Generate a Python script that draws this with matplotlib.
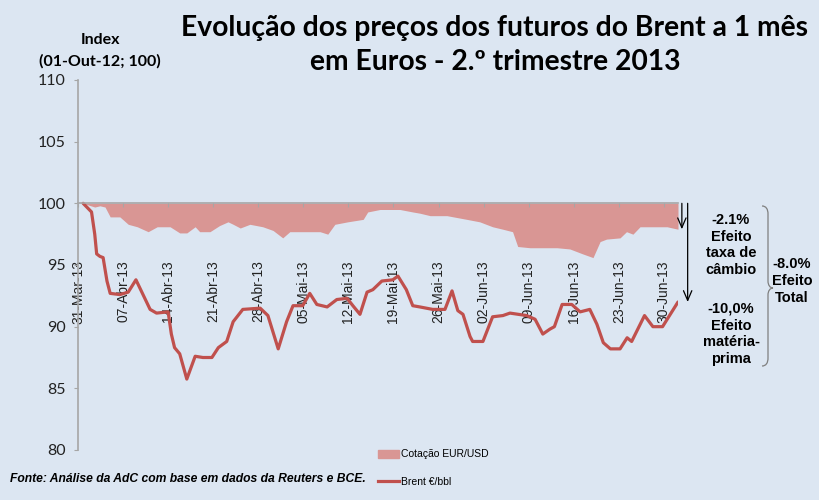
import matplotlib.pyplot as plt
from matplotlib.path import Path
from matplotlib.patches import PathPatch, Patch
from matplotlib.lines import Line2D

# days counted from 31-Mar-13
tick_days = [0, 7, 14, 21, 28, 35, 42, 49, 56, 63, 70, 77, 84, 91]
tick_labels = ["31-Mar-13", "07-Abr-13", "14-Abr-13", "21-Abr-13", "28-Abr-13",
               "05-Mai-13", "12-Mai-13", "19-Mai-13", "26-Mai-13", "02-Jun-13",
               "09-Jun-13", "16-Jun-13", "23-Jun-13", "30-Jun-13"]

# Cotação EUR/USD (index)
eur_days = [0.8, 2.6, 3.4, 4.2, 5.0, 6.5, 7.8, 9.2, 10.9, 12.3, 14.3, 15.8, 16.9,
            18.2, 18.9, 20.5, 22.0, 23.3, 24.1, 25.2, 26.7, 28.7, 30.3, 31.8, 32.9,
            37.6, 38.8, 39.9, 41.9, 44.3, 45.0, 46.9, 50.0, 52.0, 53.1, 54.7, 57.3,
            60.4, 62.4, 64.4, 66.0, 67.5, 68.3, 70.2, 72.2, 74.4, 76.4, 78.4, 80.0,
            81.1, 82.1, 84.2, 85.2, 86.2, 87.3, 89.3, 91.5, 93.2]
eur_vals = [100.0, 99.7, 99.8, 99.7, 98.9, 98.9, 98.3, 98.1, 97.7, 98.1, 98.1, 97.6, 97.6,
            98.1, 97.7, 97.7, 98.2, 98.5, 98.3, 98.0, 98.3, 98.1, 97.8, 97.2, 97.7,
            97.7, 97.5, 98.3, 98.5, 98.7, 99.3, 99.5, 99.5, 99.3, 99.2, 99.0, 99.0,
            98.7, 98.5, 98.1, 97.9, 97.7, 96.5, 96.4, 96.4, 96.4, 96.3, 95.9, 95.6,
            96.9, 97.1, 97.2, 97.7, 97.5, 98.1, 98.1, 98.1, 97.9]

# Brent EUR/bbl (index)
brent_days = [0.8, 2.1, 2.6, 2.9, 3.4, 3.9, 4.5, 5.0, 6.5, 7.8, 9.0, 10.1, 11.2, 12.2,
              14.0, 14.5, 15.0, 15.8, 16.9, 18.2, 19.4, 20.8, 21.8, 23.1, 24.1, 25.6,
              28.3, 29.5, 31.1, 32.4, 33.4, 34.9, 36.0, 37.1, 38.7, 40.2, 41.8, 42.7,
              43.8, 44.9, 45.8, 47.2, 48.9, 49.7, 51.0, 52.0, 53.1, 55.1, 57.0, 58.1,
              59.0, 59.8, 60.9, 61.3, 62.9, 64.4, 66.0, 67.1, 69.7, 71.0, 72.2, 73.3,
              74.0, 75.2, 76.7, 78.0, 79.5, 80.6, 81.6, 82.7, 84.2, 85.3, 86.0, 88.0,
              89.3, 90.8, 93.2]
brent_vals = [100.0, 99.3, 97.5, 95.9, 95.7, 95.6, 93.7, 92.7, 92.6, 92.8, 93.8, 92.6, 91.4, 91.1,
              91.2, 89.4, 88.3, 87.8, 85.75, 87.6, 87.5, 87.5, 88.3, 88.8, 90.4, 91.4,
              91.5, 90.9, 88.2, 90.4, 91.7, 91.7, 92.7, 91.8, 91.6, 92.2, 92.3, 91.7,
              91.0, 92.8, 93.0, 93.7, 93.8, 94.1, 93.0, 91.7, 91.6, 91.4, 91.4, 92.9,
              91.3, 91.0, 89.2, 88.8, 88.8, 90.8, 90.9, 91.1, 90.9, 90.6, 89.4, 89.8,
              90.0, 91.8, 91.8, 91.2, 91.4, 90.2, 88.7, 88.2, 88.2, 89.1, 88.8, 90.9,
              90.0, 90.0, 92.0]

bg = "#DCE6F2"
line_col = "#C0504D"
area_col = "#D99694"
W, H = 819, 500

fig = plt.figure(figsize=(8.19, 5), dpi=100, facecolor=bg)
ax = fig.add_axes([78 / W, 1 - 450 / H, 600 / W, 370 / H])
ax.set_facecolor(bg)

ax.fill_between(eur_days, eur_vals, 100, color=area_col, lw=0)
ax.plot(brent_days, brent_vals, color=line_col, lw=2.3, solid_joinstyle="round",
        solid_capstyle="round")

ax.set_xlim(0, 93.2)
ax.set_ylim(80, 110)
ax.set_yticks(range(80, 111, 5))
ax.set_xticks(tick_days)
ax.set_xticklabels(tick_labels)

for s in ["top", "right"]:
    ax.spines[s].set_visible(False)
ax.spines["bottom"].set_position(("data", 100))
ax.spines["bottom"].set_color("#A6A6A6")
ax.spines["left"].set_color("#A6A6A6")
ax.spines["bottom"].set_linewidth(1.2)
ax.spines["left"].set_linewidth(1.2)
ax.tick_params(axis="x", length=3, color="#A6A6A6", pad=38, labelrotation=90,
               labelsize=10, labelcolor="#222222")
ax.tick_params(axis="y", length=3, color="#A6A6A6", pad=6, labelsize=11.5,
               labelcolor="#222222")
for lab in ax.get_xticklabels():
    lab.set_family("Liberation Sans")
for lab in ax.get_yticklabels():
    lab.set_family("Lato")

# arrows for the two effects
arrow = dict(arrowstyle="->,head_length=0.7,head_width=0.3", color="black", lw=0.9,
             shrinkA=0, shrinkB=0)
ax.annotate("", xy=(93.8, eur_vals[-1]), xytext=(93.8, 100), arrowprops=arrow,
            annotation_clip=False)
ax.annotate("", xy=(94.7, brent_vals[-1]), xytext=(94.7, 100), arrowprops=arrow,
            annotation_clip=False)

# titles and notes
fig.text(495 / W, 1 - 28 / H, "Evolução dos preços dos futuros do Brent a 1 mês",
         ha="center", va="center", fontsize=20.3, weight="bold", family="Lato")
fig.text(495 / W, 1 - 62 / H, "em Euros - 2.º trimestre 2013",
         ha="center", va="center", fontsize=20.3, weight="bold", family="Lato")
fig.text(100 / W, 1 - 40 / H, "Index", ha="center", va="center", fontsize=11.5,
         weight="bold", family="Lato")
fig.text(100 / W, 1 - 61 / H, "(01-Out-12; 100)", ha="center", va="center",
         fontsize=11.5, weight="bold", family="Lato")
fig.text(10 / W, 1 - 479 / H, "Fonte: Análise da AdC com base em dados da Reuters e BCE.",
         ha="left", va="center", fontsize=8.7, weight="bold", style="italic",
         family="Liberation Sans")

txt = dict(ha="center", va="center", fontsize=10.5, weight="bold",
           family="Liberation Sans", linespacing=1.25)
fig.text(731 / W, 1 - 245 / H, "-2.1%\nEfeito\ntaxa de\ncâmbio", **txt)
fig.text(731 / W, 1 - 334 / H, "-10,0%\nEfeito\nmatéria-\nprima", **txt)
fig.text(792 / W, 1 - 281 / H, "-8.0%\nEfeito\nTotal", **txt)

# curly brace
def px(x, y):
    return (x / W, 1 - y / H)

verts = [px(762, 206), px(766, 206), px(768, 209), px(768, 214),
         px(768, 281),
         px(768, 285), px(770, 288), px(773, 288),
         px(770, 288), px(768, 291), px(768, 295),
         px(768, 358),
         px(768, 363), px(766, 366), px(762, 366)]
codes = [Path.MOVETO, Path.CURVE4, Path.CURVE4, Path.CURVE4,
         Path.LINETO,
         Path.CURVE4, Path.CURVE4, Path.CURVE4,
         Path.CURVE4, Path.CURVE4, Path.CURVE4,
         Path.LINETO,
         Path.CURVE4, Path.CURVE4, Path.CURVE4]
fig.patches.append(PathPatch(Path(verts, codes), transform=fig.transFigure,
                             fill=False, ec="#7F7F7F", lw=0.9))

handles = [Patch(color=area_col, label="Cotação EUR/USD"),
           Line2D([], [], color=line_col, lw=2.3, label="Brent €/bbl")]
fig.legend(handles=handles, loc="center left", bbox_to_anchor=(373 / W, 1 - 468 / H),
           frameon=False, labelspacing=1.7, handlelength=2.0, handleheight=0.8,
           handletextpad=0.15, borderpad=0, prop={"family": "Liberation Sans", "size": 7.5})

fig.savefig("out.png", dpi=100, facecolor=bg)
